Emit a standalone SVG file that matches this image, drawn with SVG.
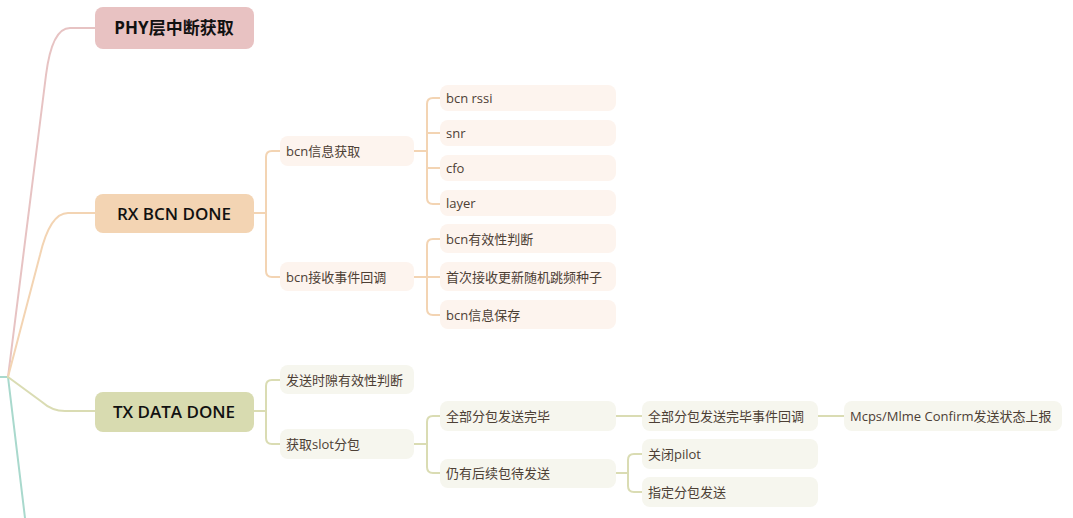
<svg xmlns="http://www.w3.org/2000/svg" width="1073" height="518" viewBox="0 0 1073 518">
<style>
.main text{font-family:"Open Sans","Noto Sans CJK SC",sans-serif;font-size:17px;fill:#111;text-anchor:middle}
.sub text{font-family:"Open Sans","Noto Sans CJK SC",sans-serif;font-size:13px;fill:#4d4035}
.c{fill:none;stroke-width:2;stroke-linecap:round}
.pk{stroke:#e7c3c3}.or{stroke:#f3d4b3}.gr{stroke:#dadcb3}.cy{stroke:#a9d9cd}
.rxs rect{fill:#fdf4ee}
.txs rect{fill:#f6f6ee}
</style>
<g id="connectors">
<path class="c cy" d="M0,377 L8,377 L25,518"/>
<path class="c pk" d="M8,377 L46,75 Q52,28 70,28 L95,28"/>
<path class="c or" d="M8,377 L40,255 Q50,213 68,213 L95,213"/>
<path class="c gr" d="M8,377 L42,402 Q52,411 65,411 L95,411"/>
<path class="c or" d="M254,213 L266,213 M280,151 L272,151 Q266,151 266,157 L266,271 Q266,277 272,277 L280,277"/>
<path class="c or" d="M414,151 L427,151 M440,98 L433,98 Q427,98 427,104 L427,198 Q427,204 433,204 L440,204 M427,133 L440,133 M427,168 L440,168"/>
<path class="c or" d="M414,277 L440,277 M440,239 L433,239 Q427,239 427,245 L427,309 Q427,315 433,315 L440,315"/>
<path class="c gr" d="M254,411 L266,411 M280,380 L272,380 Q266,380 266,386 L266,438 Q266,444 272,444 L280,444"/>
<path class="c gr" d="M414,444 L427,444 M440,416 L433,416 Q427,416 427,422 L427,467 Q427,473 433,473 L440,473"/>
<path class="c gr" d="M616,416 L642,416 M818,416 L844,416"/>
<path class="c gr" d="M616,473 L628,473 M642,454 L634,454 Q628,454 628,460 L628,486 Q628,492 634,492 L642,492"/>
</g>
<g id="phy" class="main"><rect x="95" y="7" width="159" height="42" rx="8" fill="#e8c2c2"/><text x="174" y="34" font-weight="bold">PHY层中断获取</text></g>
<g id="rx" class="main"><rect x="95" y="194" width="159" height="39" rx="8" fill="#f3d4b3"/><text x="174" y="219.5" font-weight="600">RX BCN DONE</text></g>
<g id="tx" class="main"><rect x="95" y="392" width="159" height="40" rx="8" fill="#d8dbb0"/><text x="174" y="418" font-weight="600">TX DATA DONE</text></g>
<g id="bcninfo" class="sub rxs"><rect x="280" y="136" width="134" height="30" rx="8"/><text x="286" y="156">bcn信息获取</text></g>
<g id="bcncb" class="sub rxs"><rect x="280" y="262" width="134" height="29" rx="8"/><text x="286" y="282">bcn接收事件回调</text></g>
<g id="rssi" class="sub rxs"><rect x="440" y="85" width="176" height="26" rx="8"/><text x="446" y="103">bcn rssi</text></g>
<g id="snr" class="sub rxs"><rect x="440" y="120" width="176" height="26" rx="8"/><text x="446" y="138">snr</text></g>
<g id="cfo" class="sub rxs"><rect x="440" y="155" width="176" height="26" rx="8"/><text x="446" y="173">cfo</text></g>
<g id="layer" class="sub rxs"><rect x="440" y="190" width="176" height="26" rx="8"/><text x="446" y="208">layer</text></g>
<g id="valid" class="sub rxs"><rect x="440" y="224" width="176" height="29" rx="8"/><text x="446" y="244">bcn有效性判断</text></g>
<g id="seed" class="sub rxs"><rect x="440" y="262" width="176" height="29" rx="8"/><text x="446" y="282">首次接收更新随机跳频种子</text></g>
<g id="save" class="sub rxs"><rect x="440" y="300" width="176" height="29" rx="8"/><text x="446" y="320">bcn信息保存</text></g>
<g id="slotvalid" class="sub txs"><rect x="280" y="365" width="134" height="29" rx="8"/><text x="286" y="385">发送时隙有效性判断</text></g>
<g id="getslot" class="sub txs"><rect x="280" y="429" width="134" height="30" rx="8"/><text x="286" y="449">获取slot分包</text></g>
<g id="alldone" class="sub txs"><rect x="440" y="401" width="176" height="30" rx="8"/><text x="446" y="421">全部分包发送完毕</text></g>
<g id="more" class="sub txs"><rect x="440" y="459" width="176" height="29" rx="8"/><text x="446" y="478">仍有后续包待发送</text></g>
<g id="donecb" class="sub txs"><rect x="642" y="401" width="176" height="30" rx="8"/><text x="648" y="421">全部分包发送完毕事件回调</text></g>
<g id="confirm" class="sub txs"><rect x="844" y="401" width="218" height="30" rx="8"/><text x="850" y="421">Mcps/Mlme Confirm发送状态上报</text></g>
<g id="pilot" class="sub txs"><rect x="642" y="439" width="176" height="30" rx="8"/><text x="648" y="459">关闭pilot</text></g>
<g id="assign" class="sub txs"><rect x="642" y="477" width="176" height="30" rx="8"/><text x="648" y="497">指定分包发送</text></g>
</svg>
